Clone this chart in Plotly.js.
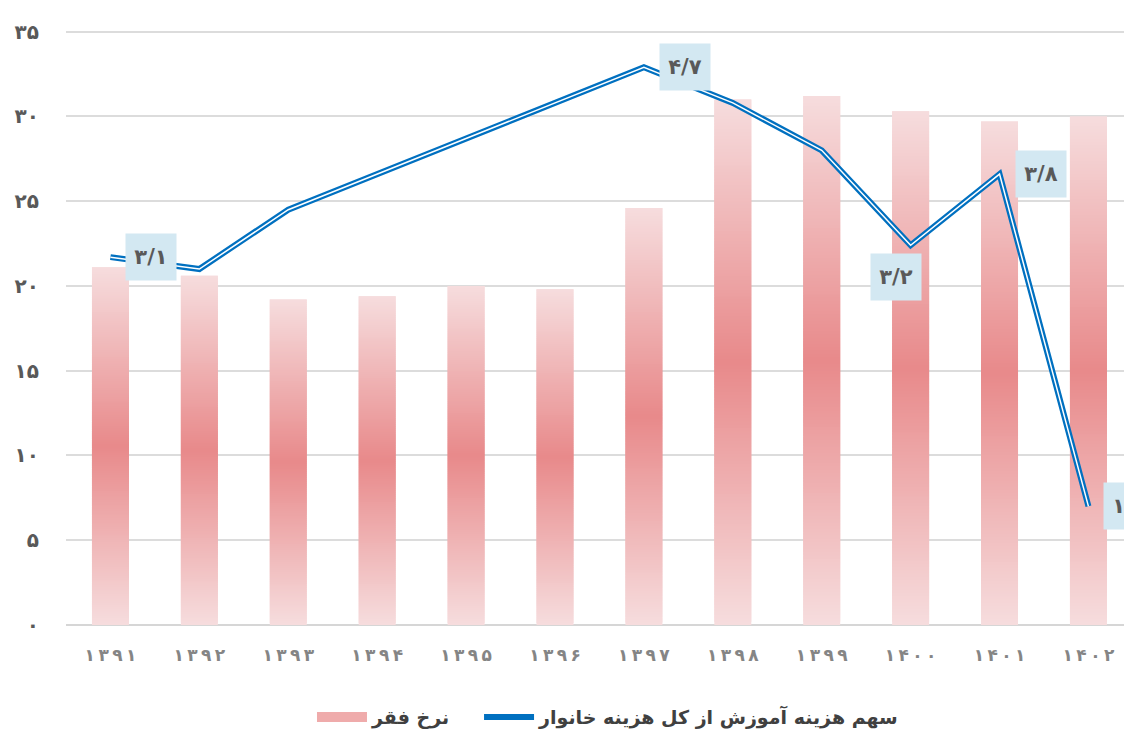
<!DOCTYPE html>
<html>
<head>
<meta charset="utf-8">
<script src="https://cdn.plot.ly/plotly-3.0.1.min.js"></script>
<style>html,body{margin:0;padding:0;background:#fff;overflow:hidden}</style>
</head>
<body>
<div id="chart" style="width:1124px;height:731px"></div>
<script>
// ---- data ----
const years = ['۱۳۹۱','۱۳۹۲','۱۳۹۳','۱۳۹۴','۱۳۹۵','۱۳۹۶','۱۳۹۷','۱۳۹۸','۱۳۹۹','۱۴۰۰','۱۴۰۱','۱۴۰۲'];
const povertyRate = [21.1, 20.6, 19.2, 19.4, 20.0, 19.8, 24.6, 31.0, 31.2, 30.3, 29.7, 30.0];
const educationShare = [3.1, 3.0, 3.5, 3.8, 4.1, 4.4, 4.7, 4.4, 4.0, 3.2, 3.8, 1.0];
const labeledPoints = [0, 6, 9, 10, 11];
const yTickVals = [0, 5, 10, 15, 20, 25, 30, 35];
const yTickText = ['۰','۵','۱۰','۱۵','۲۰','۲۵','۳۰','۳۵'];
const seriesNames = ['نرخ فقر', 'سهم هزینه آموزش از کل هزینه خانوار'];

// ---- helpers ----
const faDigits = '۰۱۲۳۴۵۶۷۸۹';
function toFa(v) {
  return v.toFixed(1).replace(/\d/g, d => faDigits[+d]).replace('.', '/');
}
const light = [246, 221, 222], dark = [232, 137, 138];
function mix(t) {
  const c = light.map((l, i) => (l + (dark[i] - l) * t).toFixed(2));
  return 'rgb(' + c.join(',') + ')';
}
const yMax = 35.1;           // primary axis top (gridline at 35 stays visible)
const y2Max = 5 * yMax / 35; // secondary axis 0..5 aligned with 0..35

const FONT = 'DejaVu Sans';
const traces = [];
const N = 160;
for (let k = 0; k < N; k++) {
  const f = (k + 0.5) / N;
  const t = 1 - Math.abs(f - 0.5) * 2;
  const ext = k < N - 1 ? 2.0 : 1.0;
  traces.push({
    type: 'bar',
    x: years,
    base: povertyRate.map(v => v * k / N),
    y: povertyRate.map(v => v * ext / N),
    width: 0.416,
    marker: {color: mix(t), line: {width: 0}},
    showlegend: false,
    hoverinfo: 'skip',
    legendgroup: 'pov'
  });
}
// legend entry for bars
traces.push({
  type: 'scatter', mode: 'lines', x: [null], y: [null],
  name: seriesNames[0], legendgroup: 'pov', legend: 'legend',
  line: {color: '#efabab', width: 12}
});
// double line
traces.push({
  type: 'scatter', mode: 'lines', x: years, y: educationShare, yaxis: 'y2',
  name: seriesNames[1], legendgroup: 'edu', legend: 'legend2',
  line: {color: '#0070c0', width: 6}
});
traces.push({
  type: 'scatter', mode: 'lines', x: years, y: educationShare, yaxis: 'y2',
  showlegend: false, legendgroup: 'edu', hoverinfo: 'skip',
  line: {color: '#ffffff', width: 1.5}
});

const annotations = labeledPoints.map(i => ({
  x: years[i], y: educationShare[i], xref: 'x', yref: 'y2',
  text: toFa(educationShare[i]), showarrow: false,
  xshift: i === 9 ? -15 : 41, yshift: i === 9 ? -32 : 0,
  bgcolor: '#d3e8f2', borderpad: 8, width: 34, height: 30,
  font: {family: FONT, size: 21, color: '#595959', weight: 'bold'}
}));

const legendStyle = {
  orientation: 'h', xanchor: 'left',
  yref: 'container', y: 0.019, yanchor: 'middle',
  itemwidth: 50,
  font: {family: FONT, size: 19, color: '#404040', weight: 'bold'}
};

const layout = {
  width: 1124, height: 731,
  margin: {l: 66, r: 0, t: 30, b: 106},
  paper_bgcolor: '#ffffff', plot_bgcolor: '#ffffff',
  barmode: 'overlay',
  font: {family: FONT},
  xaxis: {
    type: 'category', range: [-0.5, 11.4],
    tickvals: years,
    ticktext: years.map(s => s.split('').join('\u2009')),
    showgrid: false, zeroline: false, showline: false, ticks: '',
    ticklabelstandoff: 18,
    tickfont: {family: FONT, size: 17, color: '#858585', weight: 'bold'}
  },
  yaxis: {
    range: [0, yMax], tickvals: yTickVals, ticktext: yTickText,
    showgrid: true, gridcolor: '#dcdcdc', gridwidth: 2,
    zeroline: true, zerolinecolor: '#d6d6d6', zerolinewidth: 2,
    showline: false, ticks: '', ticklabelstandoff: 26,
    tickfont: {family: FONT, size: 20, color: '#595959', weight: 'bold'}
  },
  yaxis2: {
    range: [0, y2Max], overlaying: 'y', side: 'right',
    showgrid: false, zeroline: false, showticklabels: false, ticks: ''
  },
  legend: Object.assign({x: 0.2325}, legendStyle),
  legend2: Object.assign({x: 0.3904}, legendStyle),
  annotations: annotations,
  showlegend: true
};

Plotly.newPlot('chart', traces, layout, {displayModeBar: false, staticPlot: true});
</script>
</body>
</html>
